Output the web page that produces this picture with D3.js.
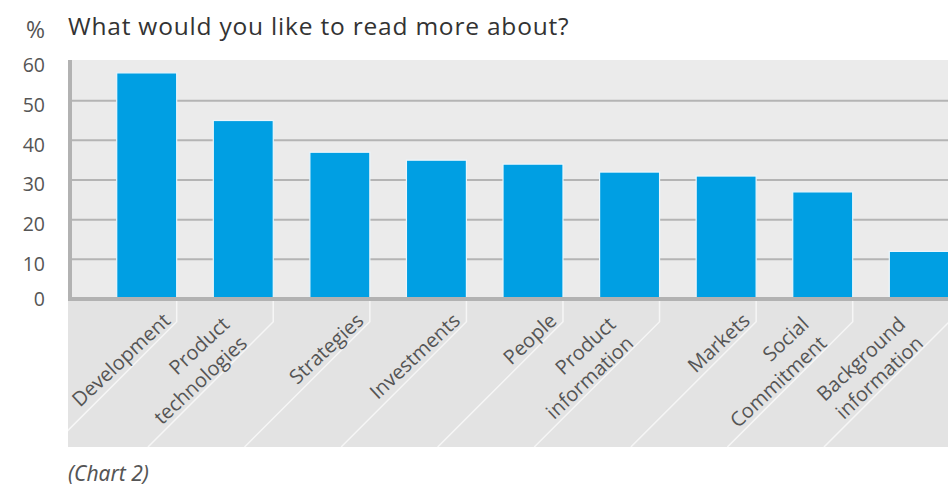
<!DOCTYPE html>
<html lang="en">
<head>
<meta charset="UTF-8">
<script src="https://d3js.org/d3.v7.min.js"></script>
<style>
    body { margin: 0; background: #fff; }
    text { font-family: "Open Sans", "Noto Sans", sans-serif; }
</style>
</head>
<body>
<div id="chart"></div>
<script>
    // survey answers, in percent
    const categories = ["Development", "Product\ntechnologies", "Strategies", "Investments", "People",
        "Product\ninformation", "Markets", "Social\nCommitment", "Background\ninformation"]
    const values = [57, 45, 37, 35, 34, 32, 31, 27, 12]
    const yTicks = [0, 10, 20, 30, 40, 50, 60]
    const title = "What would you like to read more about?"
    const unit = "%"
    const note = "(Chart 2)"

    const W = 948, H = 488
    const plot = {left: 72, top: 60, right: 994}
    const labelBottom = 447

    const svg = d3.select("#chart").append("svg")
        .attr("width", W).attr("height", H)

    const x = d3.scaleBand()
        .domain(categories)
        .range([plot.left, plot.right])
        .paddingInner(0.379)
        .paddingOuter(0.463)

    const y = d3.scaleLinear()
        .domain([0, 60])
        .range([299, 61])

    // backgrounds: plot area and the label strip under the axis
    svg.append("rect")
        .attr("x", plot.left).attr("y", plot.top)
        .attr("width", W - plot.left).attr("height", y(0) - plot.top)
        .attr("fill", "#ebebeb")
    svg.append("rect")
        .attr("x", 68).attr("y", y(0) + 2)
        .attr("width", W - 68).attr("height", labelBottom - y(0) - 2)
        .attr("fill", "#e3e3e3")

    // horizontal grid
    svg.append("g").selectAll("line")
        .data(yTicks.filter(d => d > 0 && d < 60))
        .join("line")
        .attr("x1", plot.left).attr("x2", W)
        .attr("y1", d => y(d)).attr("y2", d => y(d))
        .attr("stroke", "#b4b4b4").attr("stroke-width", 2)

    // bars
    svg.append("g").selectAll("rect")
        .data(values)
        .join("rect")
        .attr("x", (d, i) => x(categories[i]))
        .attr("y", d => y(d))
        .attr("width", x.bandwidth())
        .attr("height", d => y(0) - y(d))
        .attr("fill", "#009fe3")
        .attr("stroke", "#eaf6fc").attr("stroke-width", 1.2)

    // axis lines
    svg.append("line")
        .attr("x1", 68).attr("x2", W)
        .attr("y1", y(0)).attr("y2", y(0))
        .attr("stroke", "#b2b2b2").attr("stroke-width", 4)
    svg.append("line")
        .attr("x1", 70).attr("x2", 70)
        .attr("y1", plot.top).attr("y2", y(0) + 2)
        .attr("stroke", "#b2b2b2").attr("stroke-width", 4)

    // y tick labels
    svg.append("g").selectAll("text")
        .data(yTicks)
        .join("text")
        .attr("x", 45)
        .attr("y", d => y(d) + (d === 0 ? 0 : 4.5))
        .attr("dy", "0.35em")
        .attr("text-anchor", "end")
        .attr("font-size", 19.5)
        .attr("fill", "#555")
        .text(d => d)

    // separators between the rotated labels
    const clip = svg.append("clipPath").attr("id", "strip")
    clip.append("rect")
        .attr("x", 68).attr("y", y(0) + 2)
        .attr("width", W - 68).attr("height", labelBottom - y(0) - 2)
    const corner = y(0) + 22.7
    svg.append("g").attr("clip-path", "url(#strip)")
        .selectAll("path")
        .data(categories)
        .join("path")
        .attr("d", d => {
            const r = x(d) + x.bandwidth()
            return `M${r},${y(0) + 2}V${corner}L${r - (labelBottom - corner)},${labelBottom}`
        })
        .attr("fill", "none")
        .attr("stroke", "#f6f6f6").attr("stroke-width", 1.5)

    // category labels, rotated
    const labels = svg.append("g").selectAll("g")
        .data(categories)
        .join("g")
        .attr("transform", d => `translate(${x(d) + x.bandwidth()},${corner}) rotate(-43)`)
    labels.each(function(d) {
        const lines = d.split("\n")
        const t = d3.select(this).append("text")
            .attr("text-anchor", "end")
            .attr("font-size", 20)
            .attr("fill", "#555")
        lines.forEach((s, k) => {
            t.append("tspan")
                .attr("x", lines.length > 1 ? -34 : -4)
                .attr("y", lines.length > 1 ? (k - lines.length + 1) * 26 : -3)
                .text(s)
        })
    })

    // headings
    svg.append("text")
        .attr("x", 45).attr("y", 38)
        .attr("text-anchor", "end")
        .attr("font-size", 23)
        .attr("fill", "#555")
        .text(unit)
    svg.append("text")
        .attr("x", 68).attr("y", 35)
        .attr("font-size", 24.5)
        .attr("letter-spacing", 0.8)
        .attr("fill", "#333")
        .text(title)
    svg.append("text")
        .attr("x", 68).attr("y", 481)
        .attr("font-size", 21)
        .attr("font-style", "italic")
        .attr("fill", "#555")
        .style("font-family", "'Noto Sans', sans-serif")
        .text(note)
</script>
</body>
</html>
